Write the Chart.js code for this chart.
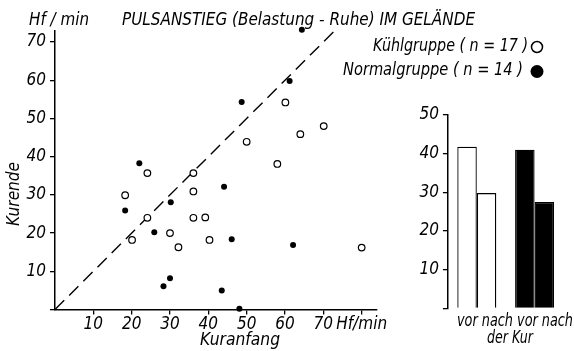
<!DOCTYPE html>
<html>
<head>
<meta charset="utf-8">
<script src="https://cdn.jsdelivr.net/npm/chart.js@4"></script>
<style>
  body { margin: 0; background: #fff; }
  #wrap { position: relative; width: 574px; height: 351px; }
  canvas { position: absolute; top: 0; }
</style>
</head>
<body>
<div id="wrap">
  <canvas id="scatter" width="574" height="351" style="left:0"></canvas>
  <canvas id="bars" width="174" height="351" style="left:400px"></canvas>
</div>
<script>
// Kühlgruppe (open circles): Kuranfang / Kurende, Hf/min
const kuehlX = [18.3, 24.1, 24.1, 20.1, 58.0, 36.1, 36.1, 36.1, 39.2, 30.0, 40.3, 32.2, 60.1, 50.0, 64.0, 70.1, 80.0];
const kuehlY = [29.9, 35.7, 24.0, 18.2, 38.1, 35.7, 30.9, 24.0, 24.1, 20.0, 18.2, 16.3, 54.2, 43.9, 45.9, 48.0, 16.2];
// Normalgruppe (filled)
const normalX = [22.0, 18.3, 25.9, 44.1, 30.2, 46.1, 30.0, 28.3, 43.5, 48.1, 64.4, 61.2, 48.7, 62.1];
const normalY = [38.3, 25.9, 20.2, 32.1, 28.1, 18.4, 8.2, 6.1, 5.0, 0.2, 73.2, 59.8, 54.3, 16.9];
// diagonal (Kuranfang = Kurende)
const diagonal = [0, 73.3];

const xTicks = [10, 20, 30, 40, 50, 60, 70, 80];
const yTicks = [0, 10, 20, 30, 40, 50, 60, 70];
const barTicks = [0, 10, 20, 30, 40, 50];

// mean values, vor / nach der Kur
const gruppen = ['Kühlgruppe', 'Normalgruppe'];
const vorKur = [41.8, 41.0];
const nachKur = [29.8, 27.5];

const FAM = '"DejaVu Sans Condensed", "DejaVu Sans", sans-serif';
const tickFont = { family: FAM, style: 'oblique', size: 17 };

function toPoints(xs, ys) {
    return xs.map((x, i) => ({ x: x, y: ys[i] }));
}

// draw text squeezed/stretched to a given width
function fitText(ctx, txt, x, y, w, align) {
    const m = ctx.measureText(txt).width;
    const s = w / m;
    ctx.save();
    let left = x;
    if (align === 'center') left = x - w / 2;
    if (align === 'right') left = x - w;
    ctx.translate(left, y);
    ctx.scale(s, 1);
    ctx.textAlign = 'left';
    ctx.fillText(txt, 0, 0);
    ctx.restore();
}

const scatterText = {
    id: 'scatterText',
    afterDraw(chart) {
        const c = chart.ctx;
        c.save();
        c.fillStyle = '#000';
        c.strokeStyle = '#000';
        c.textBaseline = 'middle';
        c.font = 'oblique 17px ' + FAM;
        fitText(c, 'Hf / min', 29, 21, 60, 'left');
        fitText(c, 'PULSANSTIEG (Belastung - Ruhe) IM GELÄNDE', 122, 21, 353, 'left');
        fitText(c, 'Kühlgruppe ( n = 17 )', 528, 47, 155, 'right');
        fitText(c, 'Normalgruppe ( n = 14 )', 523, 71, 180, 'right');
        fitText(c, 'Kuranfang', 240, 341, 80, 'center');
        c.save();
        c.translate(15, 194);
        c.rotate(-Math.PI / 2);
        fitText(c, 'Kurende', 0, 0, 64, 'center');
        c.restore();
        // legend markers
        c.lineWidth = 1.5;
        c.beginPath();
        c.arc(537, 47, 5.5, 0, Math.PI * 2);
        c.stroke();
        c.beginPath();
        c.arc(537, 71.5, 6.5, 0, Math.PI * 2);
        c.fill();
        c.restore();
    }
};

new Chart(document.getElementById('scatter'), {
    type: 'scatter',
    data: {
        datasets: [{
            label: 'Kühlgruppe (n = 17)',
            data: toPoints(kuehlX, kuehlY),
            pointRadius: 3.3,
            pointBorderWidth: 1.2,
            pointBorderColor: '#000',
            pointBackgroundColor: '#fff',
            clip: false
        }, {
            label: 'Normalgruppe (n = 14)',
            data: toPoints(normalX, normalY),
            pointRadius: 3,
            pointBorderWidth: 0,
            pointBackgroundColor: '#000',
            clip: false
        }, {
            type: 'line',
            label: 'diagonal',
            data: toPoints(diagonal, diagonal),
            borderColor: '#000',
            borderWidth: 1.4,
            borderDash: [13, 7],
            pointRadius: 0,
            clip: false
        }]
    },
    options: {
        responsive: false,
        animation: false,
        layout: { padding: { top: 30.6, right: 197, left: 0, bottom: 0 } },
        plugins: { legend: { display: false }, tooltip: { enabled: false } },
        scales: {
            x: {
                type: 'linear',
                min: 0,
                max: 84,
                afterBuildTicks: s => { s.ticks = xTicks.map(v => ({ value: v })); },
                afterFit: s => { s.height = 41.5; },
                ticks: {
                    color: '#000',
                    font: tickFont,
                    padding: 0,
                    autoSkip: false,
                    maxRotation: 0,
                    callback: v => v === 80 ? 'Hf/min' : v
                },
                grid: { drawOnChartArea: false, drawTicks: true, tickLength: 5, color: '#000', lineWidth: 1.3 },
                border: { display: true, color: '#000', width: 1.5 }
            },
            y: {
                min: 0,
                max: 73,
                afterBuildTicks: s => { s.ticks = yTicks.map(v => ({ value: v })); },
                afterFit: s => { s.width = 55; },
                ticks: {
                    color: '#000',
                    font: tickFont,
                    padding: 4,
                    autoSkip: false,
                    callback: v => v === 0 ? '' : v
                },
                grid: { drawOnChartArea: false, drawTicks: true, tickLength: 5, color: '#000', lineWidth: 1.3 },
                border: { display: true, color: '#000', width: 1.5 }
            }
        }
    },
    plugins: [scatterText]
});

const barText = {
    id: 'barText',
    afterDraw(chart) {
        const c = chart.ctx;
        c.save();
        c.fillStyle = '#000';
        c.textBaseline = 'middle';
        c.font = 'oblique 17px ' + FAM;
        fitText(c, 'vor nach vor nach', 57, 322, 116, 'left');
        fitText(c, 'der Kur', 110, 339, 46, 'center');
        c.restore();
    }
};

new Chart(document.getElementById('bars'), {
    type: 'bar',
    data: {
        labels: gruppen,
        datasets: [{
            label: 'vor der Kur',
            data: vorKur,
            backgroundColor: ['#fff', '#000'],
            borderColor: '#000',
            borderWidth: 1.3
        }, {
            label: 'nach der Kur',
            data: nachKur,
            backgroundColor: ['#fff', '#000'],
            borderColor: '#000',
            borderWidth: 1.3
        }]
    },
    options: {
        responsive: false,
        animation: false,
        layout: { padding: { top: 115, right: 10.5, left: 0, bottom: 0 } },
        datasets: { bar: { barPercentage: 1, categoryPercentage: 0.675 } },
        plugins: { legend: { display: false }, tooltip: { enabled: false } },
        scales: {
            x: {
                offset: true,
                afterFit: s => { s.height = 42.7; },
                ticks: { display: false },
                grid: { display: false },
                border: { display: false }
            },
            y: {
                min: 0,
                max: 50,
                afterBuildTicks: s => { s.ticks = barTicks.map(v => ({ value: v })); },
                afterFit: s => { s.width = 47.9; },
                ticks: {
                    color: '#000',
                    font: tickFont,
                    padding: 4,
                    callback: v => v === 0 ? '' : v
                },
                grid: { drawOnChartArea: false, drawTicks: true, tickLength: 5, color: '#000', lineWidth: 1.3 },
                border: { display: true, color: '#000', width: 1.5 }
            }
        }
    },
    plugins: [barText]
});
</script>
</body>
</html>
